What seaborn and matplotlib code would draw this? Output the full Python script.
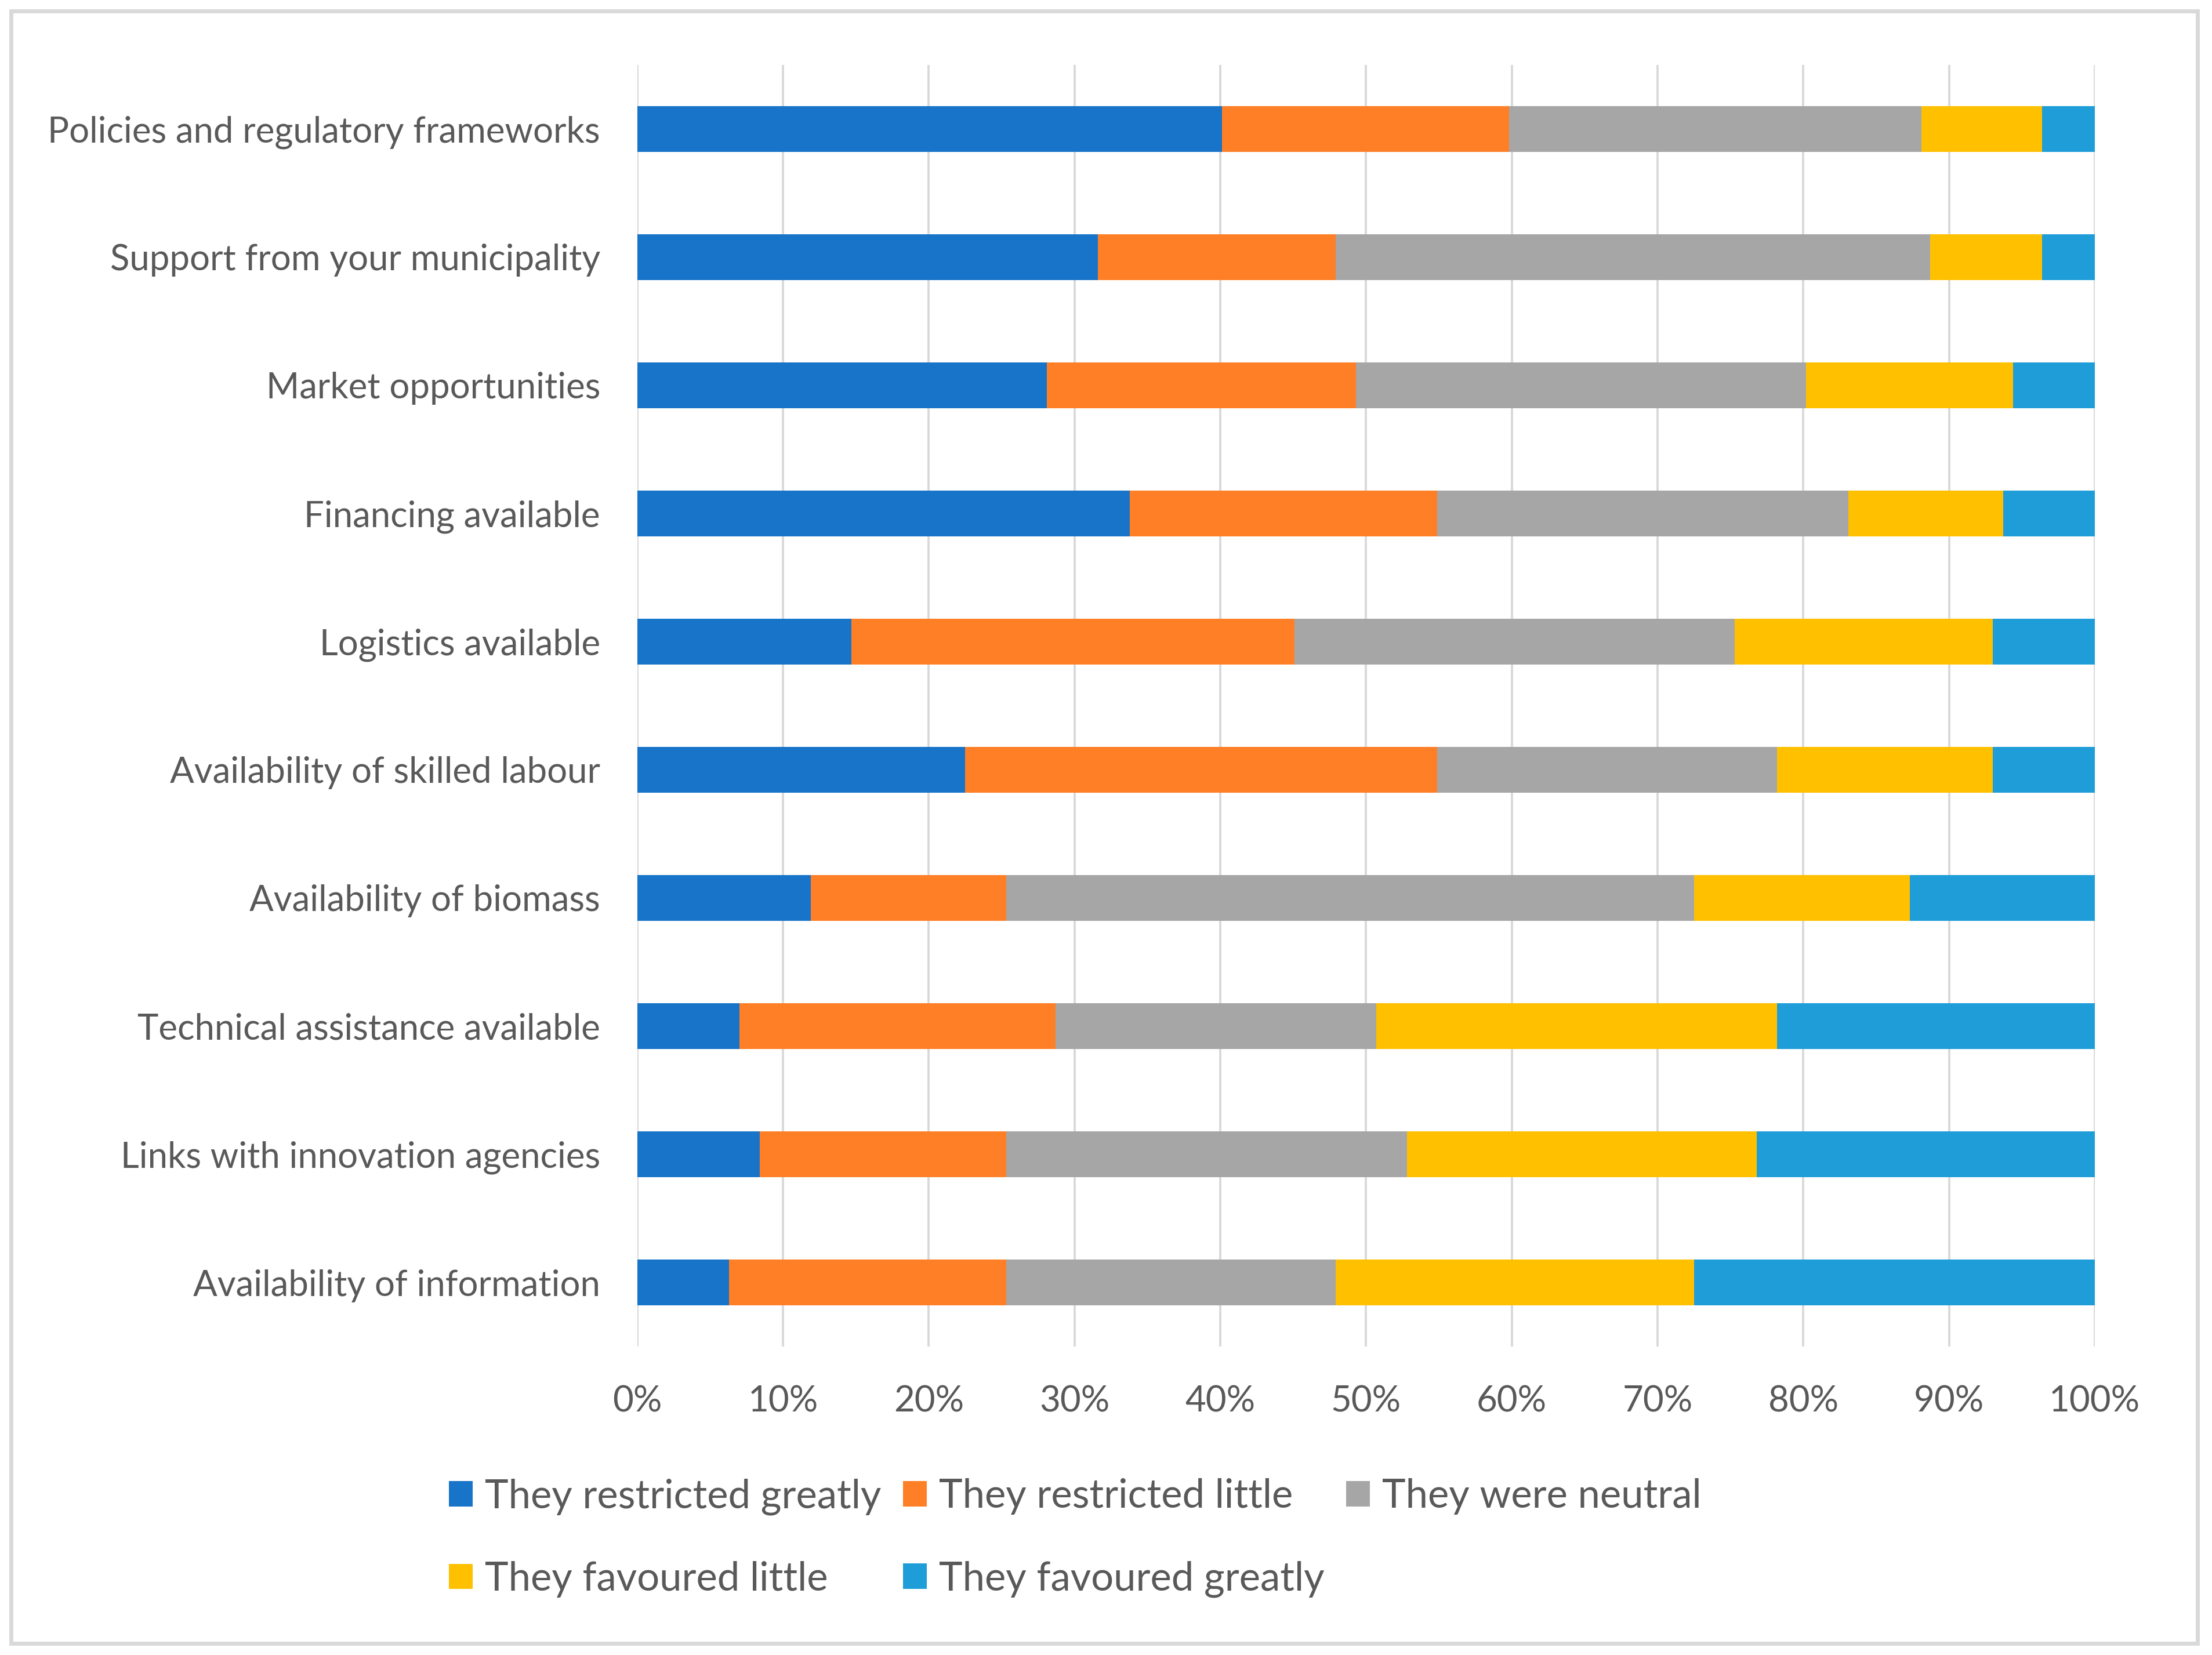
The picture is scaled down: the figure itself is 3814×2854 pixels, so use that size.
import matplotlib
matplotlib.use('Agg')
import matplotlib.pyplot as plt
from matplotlib.patches import Patch, Rectangle
import seaborn as sns
import pandas as pd
import numpy as np

sns.set_style('white')
plt.rcParams['font.family'] = ['Lato', 'DejaVu Sans']

factors = ['Policies and regulatory frameworks', 'Support from your municipality',
           'Market opportunities', 'Financing available', 'Logistics available',
           'Availability of skilled labour', 'Availability of biomass',
           'Technical assistance available', 'Links with innovation agencies',
           'Availability of information']
series = ['They restricted greatly', 'They restricted little', 'They were neutral',
          'They favoured little', 'They favoured greatly']

restricted_greatly = [40.1, 31.6, 28.1, 33.8, 14.7, 22.5, 11.9, 7.0, 8.4, 6.3]
restricted_little = [19.7, 16.3, 21.2, 21.1, 30.4, 32.4, 13.4, 21.7, 16.9, 19.0]
neutral = [28.3, 40.8, 30.9, 28.2, 30.2, 23.3, 47.2, 22.0, 27.5, 22.6]
favoured_little = [8.3, 7.7, 14.2, 10.6, 17.7, 14.8, 14.8, 27.5, 24.0, 24.6]
favoured_greatly = [3.6, 3.6, 5.6, 6.3, 7.0, 7.0, 12.7, 21.8, 23.2, 27.5]

colors = ['#1874C8', '#FF7F27', '#A6A6A6', '#FFC000', '#1E9DD8']
text_color = '#595959'
grid_color = '#D9D9D9'

df = pd.DataFrame({'Factor': factors,
                   series[0]: restricted_greatly,
                   series[1]: restricted_little,
                   series[2]: neutral,
                   series[3]: favoured_little,
                   series[4]: favoured_greatly})
vals = df[series]
# normalise each row to 100 %
pct = vals.div(vals.sum(axis=1), axis=0) * 100
cum = pct.cumsum(axis=1)

fig = plt.figure(figsize=(38.14, 28.54), dpi=100)
ax = fig.add_axes([0.2881, 0.1864, 0.9470 - 0.2881, 0.9608 - 0.1864])

# draw from the right-most cumulative segment back to the first so each overlaps
for s, c in reversed(list(zip(series, colors))):
    sns.barplot(x=cum[s], y=df['Factor'], color=c, width=0.36, orient='h',
                saturation=1, linewidth=0, ax=ax, zorder=3)

ax.set_xlim(0, 100)
ax.set_ylim(9.5, -0.5)
ax.set_xticks(np.arange(0, 101, 10))
ax.set_xticklabels([f'{t}%' for t in range(0, 101, 10)])
ax.xaxis.grid(True, color=grid_color, linewidth=2.8, zorder=0)
ax.set_axisbelow(True)
for sp in ax.spines.values():
    sp.set_visible(False)
ax.set_xlabel('')
ax.set_ylabel('')
ax.tick_params(axis='both', length=0, labelsize=44.5, colors=text_color)
ax.tick_params(axis='y', pad=46)
ax.tick_params(axis='x', pad=48)

handles = [Patch(facecolor=c, edgecolor='none') for c in colors]
order = [0, 3, 1, 4, 2]
fig.legend([handles[i] for i in order], [series[i] for i in order],
           loc='center', bbox_to_anchor=(0.486, 0.0708), ncol=3, frameon=False,
           fontsize=49.5, labelcolor=text_color, handlelength=0.6, handleheight=0.6,
           handletextpad=0.3, columnspacing=0.55, labelspacing=1.15)

fig.add_artist(Rectangle((0.005, 0.007), 0.9885, 0.9865, transform=fig.transFigure,
                         fill=False, edgecolor=grid_color, linewidth=5))

fig.savefig('out.png', dpi=100, facecolor='white')
